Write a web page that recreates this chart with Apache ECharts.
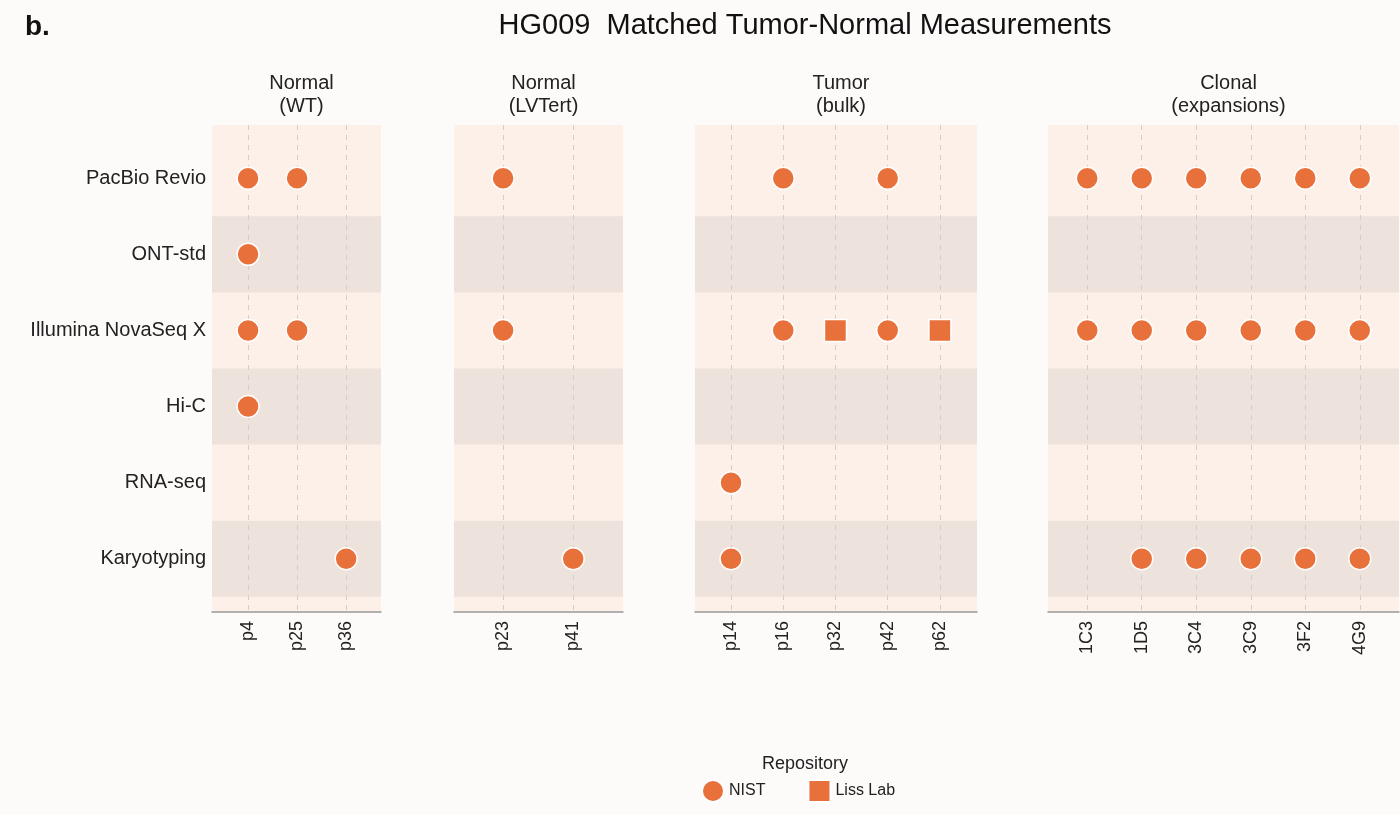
<!DOCTYPE html>
<html><head><meta charset="utf-8">
<script src="https://cdn.jsdelivr.net/npm/echarts@6/dist/echarts.min.js"></script>
<style>html,body{margin:0;background:#fdfbfa}#c{width:1400px;height:815px}</style>
</head><body><div id="c"></div>
<script>
// rows (platforms), top to bottom
const platforms = ['PacBio Revio', 'ONT-std', 'Illumina NovaSeq X', 'Hi-C', 'RNA-seq', 'Karyotyping'];
// panels and their sample labels
const panelTitles = ['Normal\n(WT)', 'Normal\n(LVTert)', 'Tumor\n(bulk)', 'Clonal\n(expansions)'];
const samples1 = ['p4', 'p25', 'p36'];
const samples2 = ['p23', 'p41'];
const samples3 = ['p14', 'p16', 'p32', 'p42', 'p62'];
const samples4 = ['1C3', '1D5', '3C4', '3C9', '3F2', '4G9'];
// measurements: [sample, platform, repository]
const points1 = [
  ['p4', 'PacBio Revio', 'NIST'], ['p25', 'PacBio Revio', 'NIST'],
  ['p4', 'ONT-std', 'NIST'],
  ['p4', 'Illumina NovaSeq X', 'NIST'], ['p25', 'Illumina NovaSeq X', 'NIST'],
  ['p4', 'Hi-C', 'NIST'],
  ['p36', 'Karyotyping', 'NIST']
];
const points2 = [
  ['p23', 'PacBio Revio', 'NIST'],
  ['p23', 'Illumina NovaSeq X', 'NIST'],
  ['p41', 'Karyotyping', 'NIST']
];
const points3 = [
  ['p16', 'PacBio Revio', 'NIST'], ['p42', 'PacBio Revio', 'NIST'],
  ['p16', 'Illumina NovaSeq X', 'NIST'], ['p32', 'Illumina NovaSeq X', 'Liss Lab'],
  ['p42', 'Illumina NovaSeq X', 'NIST'], ['p62', 'Illumina NovaSeq X', 'Liss Lab'],
  ['p14', 'RNA-seq', 'NIST'],
  ['p14', 'Karyotyping', 'NIST']
];
const points4 = [
  ['1C3', 'PacBio Revio', 'NIST'], ['1D5', 'PacBio Revio', 'NIST'], ['3C4', 'PacBio Revio', 'NIST'],
  ['3C9', 'PacBio Revio', 'NIST'], ['3F2', 'PacBio Revio', 'NIST'], ['4G9', 'PacBio Revio', 'NIST'],
  ['1C3', 'Illumina NovaSeq X', 'NIST'], ['1D5', 'Illumina NovaSeq X', 'NIST'], ['3C4', 'Illumina NovaSeq X', 'NIST'],
  ['3C9', 'Illumina NovaSeq X', 'NIST'], ['3F2', 'Illumina NovaSeq X', 'NIST'], ['4G9', 'Illumina NovaSeq X', 'NIST'],
  ['1D5', 'Karyotyping', 'NIST'], ['3C4', 'Karyotyping', 'NIST'],
  ['3C9', 'Karyotyping', 'NIST'], ['3F2', 'Karyotyping', 'NIST'], ['4G9', 'Karyotyping', 'NIST']
];

const panels = [
  { samples: samples1, points: points1, left: 212, width: 169, xmin: 0.265, xmax: 3.71 },
  { samples: samples2, points: points2, left: 454, width: 169, xmin: 0.3, xmax: 2.71 },
  { samples: samples3, points: points3, left: 695, width: 282, xmin: 0.31, xmax: 5.71 },
  { samples: samples4, points: points4, left: 1048, width: 351, xmin: 0.28, xmax: 6.72 }
];
const ORANGE = '#e8703a';
const ymin = 0.3, ymax = 6.7;

var grids = [], xAxes = [], yAxes = [], series = [], titles = [];
panels.forEach(function (p, i) {
  grids.push({ left: p.left, width: p.width, top: 125, height: 487, show: true, backgroundColor: '#fdf0e8', borderWidth: 0 });
  var idx = p.samples.map((_, k) => k + 1);
  xAxes.push({
    type: 'value', gridIndex: i, min: p.xmin, max: p.xmax,
    axisLine: { show: true, lineStyle: { color: '#999', width: 1.5 } },
    axisTick: { show: false },
    splitLine: { show: false },
    axisLabel: { customValues: idx, rotate: 90, fontSize: 18, color: '#222', margin: 9,
      formatter: v => p.samples[Math.round(v) - 1] || '' }
  });
  yAxes.push({
    type: 'value', gridIndex: i, min: ymin, max: ymax, inverse: true,
    axisLine: { show: false }, axisTick: { show: false }, splitLine: { show: false },
    axisLabel: i === 0 ? { customValues: [1, 2, 3, 4, 5, 6], fontSize: 20, color: '#222', margin: 6,
      formatter: v => platforms[Math.round(v) - 1] || '' } : { show: false }
  });
  // row shading + dashed sample guides
  series.push({
    type: 'scatter', xAxisIndex: i, yAxisIndex: i, data: [], silent: true,
    markArea: { silent: true, itemStyle: { color: '#eee2dc' },
      data: [2, 4, 6].map(r => [{ yAxis: r - 0.5 }, { yAxis: r + 0.5 }]) },
    markLine: { silent: true, symbol: 'none', label: { show: false },
      lineStyle: { color: '#d8ccc6', type: [5, 5], width: 1 },
      data: idx.map(v => ({ xAxis: v })) }
  });
  ['NIST', 'Liss Lab'].forEach(function (repo) {
    series.push({
      name: repo, type: 'scatter', xAxisIndex: i, yAxisIndex: i, z: 5,
      symbol: repo === 'NIST' ? 'circle' : 'rect', symbolSize: 22,
      itemStyle: { color: ORANGE, borderColor: '#fff', borderWidth: 1.5, opacity: 1 },
      data: p.points.filter(d => d[2] === repo)
        .map(d => [p.samples.indexOf(d[0]) + 1, platforms.indexOf(d[1]) + 1])
    });
  });
  titles.push({ text: panelTitles[i], left: p.left + p.width / 2, top: 67, textAlign: 'center',
    textStyle: { fontSize: 20, fontWeight: 'normal', color: '#222', lineHeight: 23, fontFamily: 'Liberation Sans' } });
});
titles.push({ text: 'HG009  Matched Tumor-Normal Measurements', left: 800, top: 6, textAlign: 'center',
  textStyle: { fontSize: 29, fontWeight: 'normal', color: '#111', fontFamily: 'Liberation Sans' } });
titles.push({ text: 'b.', left: 20, top: 8, textStyle: { fontSize: 28, fontWeight: 'bold', color: '#111', fontFamily: 'Liberation Sans' } });
titles.push({ text: 'Repository', left: 800, top: 750, textAlign: 'center',
  textStyle: { fontSize: 18, fontWeight: 'normal', color: '#222', fontFamily: 'Liberation Sans' } });

var chart = echarts.init(document.getElementById('c'));
chart.setOption({
  backgroundColor: '#fdfbfa',
  animation: false,
  textStyle: { fontFamily: 'Liberation Sans' },
  title: titles,
  legend: { data: [{ name: 'NIST', icon: 'circle' }, { name: 'Liss Lab', icon: 'rect' }],
    left: 696, top: 774, itemWidth: 22, itemHeight: 22, itemGap: 42,
    textStyle: { fontSize: 16, color: '#222' } },
  grid: grids, xAxis: xAxes, yAxis: yAxes, series: series
});
</script></body></html>
